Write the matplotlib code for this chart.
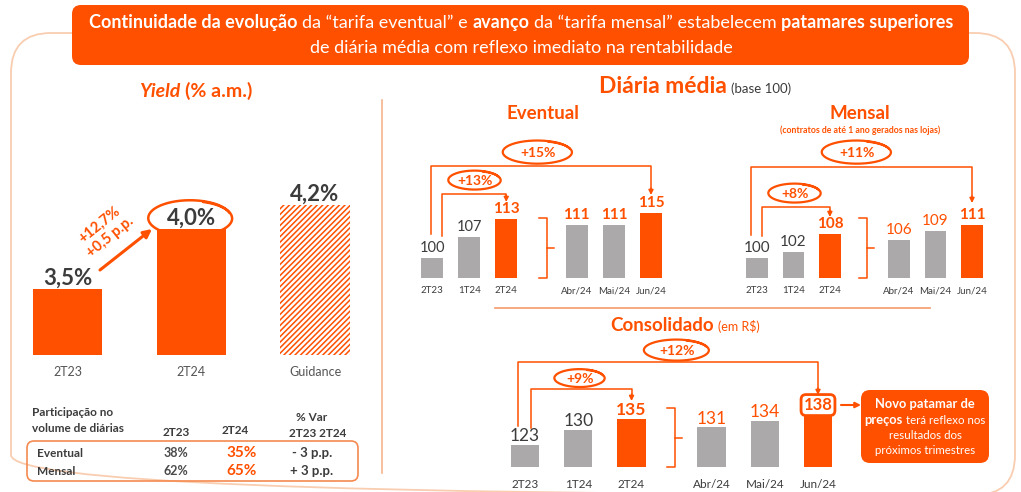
import numpy as np
import matplotlib
matplotlib.use("Agg")
import matplotlib.pyplot as plt
import matplotlib.transforms as mtransforms
from matplotlib.patches import FancyBboxPatch

W, H = 1021, 492
ORANGE = "#FF5000"
GRAY = "#ABA9A9"
DARK = "#3C3C3C"
PEACH = "#F9CDB0"

plt.rcParams["font.family"] = ["Lato", "DejaVu Sans"]
plt.rcParams["hatch.linewidth"] = 1.1

# ---- data ----
yield_cats = ["2T23", "2T24", "Guidance"]
yield_vals = [3.5, 4.0, 4.2]
yield_labels = ["3,5%", "4,0%", "4,2%"]
yield_growth = "+12,7%\n+0,5 p.p."

part_rows = ["Eventual", "Mensal"]
part_2t23 = ["38%", "62%"]
part_2t24 = ["35%", "65%"]
part_var = ["- 3 p.p.", "+ 3 p.p."]

period_cats = ["2T23", "1T24", "2T24", "Abr/24", "Mai/24", "Jun/24"]
eventual_vals = [100, 107, 113, 111, 111, 115]
mensal_vals = [100, 102, 108, 106, 109, 111]
consol_vals = [123, 130, 135, 131, 134, 138]

eventual_growth = ["+13%", "+15%"]
mensal_growth = ["+8%", "+11%"]
consol_growth = ["+9%", "+12%"]

bar_colors = [GRAY, GRAY, ORANGE, GRAY, GRAY, ORANGE]

fig = plt.figure(figsize=(W / 100, H / 100), dpi=100)
ov = fig.add_axes([0, 0, 1, 1])
ov.set_xlim(0, W)
ov.set_ylim(H, 0)
ov.axis("off")
renderer = fig.canvas.get_renderer()


def rich(ax, x, y, parts, size, color, ha="center"):
    """Draw a line made of differently styled pieces; y is the baseline."""
    arts, gaps = [], []
    for p in parts:
        s, w = p[0], p[1]
        c = p[2] if len(p) > 2 else color
        st = p[3] if len(p) > 3 else "normal"
        sz = p[4] if len(p) > 4 else size
        gap = 0
        if s.startswith(" "):
            a = ax.text(0, 0, "x x", fontsize=sz, fontweight=w, style=st)
            b = ax.text(0, 0, "xx", fontsize=sz, fontweight=w, style=st)
            gap = a.get_window_extent(renderer).width - b.get_window_extent(renderer).width
            a.remove()
            b.remove()
            s = s.lstrip()
        t = ax.text(0, y, s, fontsize=sz, fontweight=w, color=c, style=st,
                    va="baseline", ha="left")
        arts.append(t)
        gaps.append(gap)
    widths = [t.get_window_extent(renderer).width for t in arts]
    total = sum(widths) + sum(gaps)
    cur = x - total / 2 if ha == "center" else x
    for t, wd, g in zip(arts, widths, gaps):
        cur += g
        t.set_x(cur)
        cur += wd
    return total


def px_axes(x0, x1, y0, y1):
    ax = fig.add_axes([x0 / W, 1 - y1 / H, (x1 - x0) / W, (y1 - y0) / H])
    ax.set_facecolor("none")
    for s in ax.spines.values():
        s.set_visible(False)
    ax.set_yticks([])
    ax.tick_params(axis="x", length=0)
    return ax


def bar_panel(x_first, x_last, pos, y_top, y_base, v_base, px_per_v, x_pad):
    u = (pos[-1] - pos[0]) / (x_last - x_first)
    ax = px_axes(x_first - x_pad, x_last + x_pad, y_top, y_base)
    ax.set_xlim(pos[0] - x_pad * u, pos[-1] + x_pad * u)
    ax.set_ylim(v_base, v_base + (y_base - y_top) / px_per_v)
    return ax


def scribble(cx, cy, w, h, lw=1.6):
    t = np.linspace(0, 2 * np.pi * 1.15, 200) + np.pi * 0.1
    grow = 1 + 0.07 * np.sin(t / 2.3)
    ov.plot(cx + w / 2 * np.cos(t) * grow, cy - h / 2 * np.sin(t) * grow,
            color=ORANGE, lw=lw, solid_capstyle="round")


def growth_arrow(ax, x_left, x_right, y_bottom, y_top, y_tip):
    tr = mtransforms.blended_transform_factory(ax.transData, ov.transData)
    ax.plot([x_left, x_left, x_right, x_right], [y_bottom, y_top, y_top, y_tip - 5],
            transform=tr, color=ORANGE, lw=1.1, clip_on=False)
    ax.annotate("", xy=(x_right, y_tip), xycoords=tr, xytext=(x_right, y_tip - 7),
                textcoords=tr,
                arrowprops=dict(arrowstyle="-|>", color=ORANGE, lw=1.1,
                                mutation_scale=7, shrinkA=0, shrinkB=0))


def bracket(x, y0, y1):
    ym = (y0 + y1) / 2
    ov.plot([x - 8, x, x, x - 8], [y0, y0, y1, y1], color=ORANGE, lw=1.1)
    ov.plot([x, x + 7], [ym, ym], color=ORANGE, lw=1.1)


# ---- frame and banner ----
ov.add_patch(FancyBboxPatch((11, 33), 1004, 462, boxstyle="round,pad=0,rounding_size=40",
                            fc="none", ec=PEACH, lw=1.3))
ov.add_patch(FancyBboxPatch((72, 5), 897, 60, boxstyle="round,pad=0,rounding_size=9",
                            fc=ORANGE, ec="none"))
rich(ov, 521, 28, [("Continuidade da evolução", "bold"),
                   (" da “tarifa eventual” e", "normal"),
                   (" avanço", "bold"),
                   (" da “tarifa mensal” estabelecem", "normal"),
                   (" patamares superiores", "bold")], 13, "white")
rich(ov, 521, 53, [("de diária média com reflexo imediato na rentabilidade", "normal")], 13, "white")

ov.plot([382, 382], [100, 473], color="#F6B48C", lw=1.2)
ov.plot([495, 930], [308, 308], color="#F7996A", lw=1.2)

# ---- Yield panel ----
rich(ov, 196, 97, [("Yield", "bold", ORANGE, "italic"), (" (% a.m.)", "bold")], 14, ORANGE)
ypos = np.arange(len(yield_vals))
yax = bar_panel(67.5, 315, ypos, 150, 355, 2.95, 120, 50)
ybars = yax.bar(ypos, yield_vals, width=0.56, color=ORANGE)
ybars[2].set_facecolor("white")
ybars[2].set_edgecolor(ORANGE)
ybars[2].set_hatch("//////")
ybars[2].set_linewidth(0)
yax.set_xticks(ypos, yield_cats, fontsize=9, color="#555555")
yax.tick_params(axis="x", pad=8)
for x, v, lab in zip(ypos, yield_vals, yield_labels):
    yax.annotate(lab, (x, v), xytext=(0, 0), textcoords="offset points",
                 ha="center", va="bottom", fontsize=16, fontweight="bold", color=DARK)
scribble(191, 218, 80, 34, lw=1.8)
ov.annotate("", xy=(152, 229), xytext=(100, 270),
            arrowprops=dict(arrowstyle="-|>", color=ORANGE, lw=2.2, mutation_scale=12,
                            shrinkA=0, shrinkB=0))
ov.text(105, 231, yield_growth, rotation=39, rotation_mode="anchor", ha="center",
        va="center", fontsize=10.5, fontweight="bold", color=ORANGE, linespacing=1.2)

# ---- participation table ----
hdr = dict(fontsize=8.5, fontweight="bold", color=DARK, va="baseline")
ov.text(32, 416, "Participação no", **hdr)
ov.text(32, 432, "volume de diárias", **hdr)
ov.text(176, 436, "2T23", ha="center", **hdr)
ov.text(235, 434, "2T24", ha="center", **hdr)
ov.text(312, 421, "% Var", ha="center", **hdr)
ov.text(318, 437, "2T23 2T24", ha="center", **hdr)
ov.add_patch(FancyBboxPatch((27, 441), 331, 40, boxstyle="round,pad=0,rounding_size=7",
                            fc="none", ec="#F58A50", lw=1.2))
for i, row in enumerate(part_rows):
    yb = 457 + 18 * i
    ov.text(37, yb, row, fontsize=8.5, fontweight="bold", color=DARK, va="baseline")
    ov.text(176, yb, part_2t23[i], fontsize=9, fontweight="bold", color="#4A4A4A",
            ha="center", va="baseline")
    ov.text(242, yb, part_2t24[i], fontsize=11, fontweight="bold", color=ORANGE,
            ha="center", va="baseline")
    ov.text(312, yb, part_var[i], fontsize=9.5, fontweight="bold", color=DARK,
            ha="center", va="baseline")

# ---- Diária média panels ----
rich(ov, 695, 93, [("Diária média", "bold", ORANGE, "normal", 16.5),
                   (" (base 100)", "normal", DARK, "normal", 9.5)], 16.5, ORANGE)

pos6 = np.array([0, 1, 2, 3.9, 4.9, 5.9])


def diaria_panel(vals, x_first, x_last, label_styles, cat_size):
    ax = bar_panel(x_first, x_last, pos6, 140, 278, 93.3, 3.0, 30)
    ax.bar(pos6, vals, width=0.6, color=bar_colors)
    ax.set_xticks(pos6, period_cats, fontsize=cat_size, color=DARK)
    ax.tick_params(axis="x", pad=6)
    for x, v, (c, w, s) in zip(pos6, vals, label_styles):
        ax.annotate(str(v), (x, v), xytext=(0, 2), textcoords="offset points",
                    ha="center", va="bottom", fontsize=s, fontweight=w, color=c)
    return ax


ev_styles = [(DARK, "normal", 10.5), (DARK, "normal", 10.5), (ORANGE, "bold", 11),
             (ORANGE, "bold", 11), (ORANGE, "bold", 11), (ORANGE, "bold", 11)]
me_styles = [(DARK, "normal", 11), (DARK, "normal", 11), (ORANGE, "bold", 11),
             (ORANGE, "normal", 11), (ORANGE, "normal", 11), (ORANGE, "bold", 11)]

rich(ov, 543, 119, [("Eventual", "bold")], 13.5, ORANGE)
eax = diaria_panel(eventual_vals, 432, 651, ev_styles, 7)
growth_arrow(eax, pos6[0] + 0.27, pos6[2], 236, 194, 202)
growth_arrow(eax, pos6[0] - 0.03, pos6[5], 234, 166, 195)
scribble(475, 180, 50, 18)
ov.text(475, 181, eventual_growth[0], ha="center", va="center", fontsize=10,
        fontweight="bold", color=ORANGE)
scribble(538, 152, 66, 22)
ov.text(538, 153, eventual_growth[1], ha="center", va="center", fontsize=10,
        fontweight="bold", color=ORANGE)
bracket(547, 218, 278)

rich(ov, 860, 119, [("Mensal", "bold")], 13.5, ORANGE)
ov.text(860, 130, "(contratos de até 1 ano gerados nas lojas)", ha="center", va="center",
        fontsize=6.3, fontweight="bold", color=ORANGE)
mx = diaria_panel(mensal_vals, 757, 972, me_styles, 7)
growth_arrow(mx, pos6[0] + 0.14, pos6[2], 236, 207, 217)
growth_arrow(mx, pos6[0] - 0.17, pos6[5], 235, 167, 203)
scribble(795, 193, 50, 18)
ov.text(795, 194, mensal_growth[0], ha="center", va="center", fontsize=10,
        fontweight="bold", color=ORANGE)
scribble(857, 152, 66, 22)
ov.text(857, 153, mensal_growth[1], ha="center", va="center", fontsize=10,
        fontweight="bold", color=ORANGE)
bracket(867, 218, 278)

# ---- Consolidado ----
rich(ov, 685, 331, [("Consolidado", "bold", ORANGE, "normal", 13.5),
                    (" (em R$)", "normal", ORANGE, "normal", 9)], 13.5, ORANGE)
pos_c = np.array([0, 1, 2, 3.5, 4.5, 5.5])
cax = bar_panel(525, 818, pos_c, 340, 467, 113, 2.2, 40)
cax.bar(pos_c, consol_vals, width=0.53, color=bar_colors)
cax.set_xticks(pos_c, period_cats, fontsize=8.5, color=DARK)
cax.tick_params(axis="x", pad=9)
co_styles = [(DARK, "normal"), (DARK, "normal"), (ORANGE, "bold"),
             (ORANGE, "normal"), (ORANGE, "normal")]
for x, v, (c, w) in zip(pos_c[:-1], consol_vals[:-1], co_styles):
    cax.annotate(str(v), (x, v), xytext=(0, 0.5), textcoords="offset points",
                 ha="center", va="bottom", fontsize=12.5, fontweight=w, color=c)
cax.annotate(str(consol_vals[-1]), (pos_c[-1], consol_vals[-1]), xytext=(0, 5),
             textcoords="offset points", ha="center", va="center", fontsize=12,
             fontweight="bold", color=ORANGE,
             bbox=dict(boxstyle="round,pad=0.15,rounding_size=0.3", fc="white",
                       ec=ORANGE, lw=2))
growth_arrow(cax, pos_c[0] + 0.11, pos_c[2], 428, 389, 401)
growth_arrow(cax, pos_c[0] - 0.13, pos_c[5], 426, 362, 395)
scribble(580, 378, 48, 17)
ov.text(580, 379, consol_growth[0], ha="center", va="center", fontsize=10,
        fontweight="bold", color=ORANGE)
scribble(677, 350, 62, 20)
ov.text(677, 351, consol_growth[1], ha="center", va="center", fontsize=10,
        fontweight="bold", color=ORANGE)
bracket(675, 408, 467)

ov.annotate("", xy=(861, 405), xytext=(841, 405),
            arrowprops=dict(arrowstyle="-|>", color=ORANGE, lw=1.5, mutation_scale=8,
                            shrinkA=0, shrinkB=0))
ov.add_patch(FancyBboxPatch((861, 390), 128, 73, boxstyle="round,pad=0,rounding_size=9",
                            fc=ORANGE, ec="none"))
rich(ov, 925, 408, [("Novo patamar de", "bold")], 9.3, "white")
rich(ov, 925, 424, [("preços", "bold", "white", "normal", 9.3),
                    (" terá reflexo nos", "normal", "white", "normal", 8.3)], 8.3, "white")
rich(ov, 925, 439, [("resultados dos", "normal")], 8.3, "white")
rich(ov, 925, 454, [("próximos trimestres", "normal")], 8.3, "white")

fig.savefig("out.png", dpi=100)
